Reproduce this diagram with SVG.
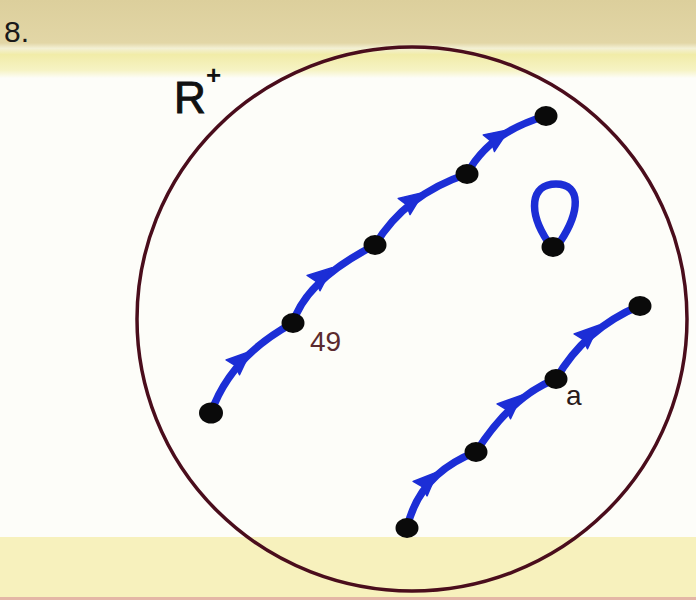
<svg xmlns="http://www.w3.org/2000/svg" width="696" height="600" viewBox="0 0 696 600">
  <defs>
    <linearGradient id="topband" x1="0" y1="0" x2="0" y2="1">
      <stop offset="0" stop-color="#dccf9c"/>
      <stop offset="0.55" stop-color="#e2d6a6"/>
      <stop offset="0.62" stop-color="#f3f0d4"/>
      <stop offset="0.7" stop-color="#f1eca8"/>
      <stop offset="0.9" stop-color="#f6f3c4"/>
      <stop offset="1" stop-color="#fdfdf8"/>
    </linearGradient>
    <path id="ah" d="M13,0 L-11,-10 L-8,0 L-11,10 Z"/>
    <style>
      .edge { fill: none; stroke: #1c2ed6; stroke-width: 7.5; stroke-linecap: round; }
      .arrow { fill: #1c2ed6; stroke: #1c2ed6; stroke-width: 1.5; stroke-linejoin: round; }
      .dot { fill: #0a0a0a; }
      .region { fill: none; stroke: #4a0d1c; stroke-width: 3.5; }
      .lbl { font-family: "Liberation Sans", Arial, sans-serif; }
    </style>
  </defs>

  <!-- paper -->
  <rect x="0" y="0" width="696" height="600" fill="#fdfdf9"/>
  <rect x="0" y="0" width="696" height="78" fill="url(#topband)"/>
  <rect x="0" y="537" width="696" height="63" fill="#f7f1bd"/>
  <rect x="0" y="597" width="696" height="3" fill="#e4b6a6"/>

  <!-- region boundary -->
  <g id="region">
    <ellipse class="region" cx="412" cy="319" rx="275" ry="272"/>
  </g>

  <!-- labels -->
  <text class="lbl" x="4" y="42" font-size="30" fill="#1a1a1a">8.</text>
  <text class="lbl" x="174" y="113" font-size="44" fill="#111" stroke="#111" stroke-width="1">R</text>
  <text class="lbl" x="206" y="84" font-size="26" font-weight="bold" fill="#111">+</text>
  <text class="lbl" x="310" y="351" font-size="28" fill="#5b2a2e">49</text>
  <text class="lbl" x="566" y="405" font-size="28" fill="#2a1a1a">a</text>

  <!-- connectors -->
  <g id="connectors">
    <path class="edge" d="M211,413 Q230.5,356.7 293,323"/>
    <path class="edge" d="M293,323 Q305.9,280.5 375,245"/>
    <path class="edge" d="M375,245 Q405.3,194.6 467,174"/>
    <path class="edge" d="M467,174 Q489,132.3 546,116"/>
    <path class="edge" d="M407,528 Q419.5,473.4 476,452"/>
    <path class="edge" d="M476,452 Q511.8,395.8 556,379"/>
    <path class="edge" d="M556,379 Q585,328.8 639,306"/>
    <path class="edge" d="M548,242 C528,212 530,184 556,184 C582,184 580,212 560,242"/>
    <use href="#ah" class="arrow" transform="translate(241,360) rotate(-42)"/>
    <use href="#ah" class="arrow" transform="translate(322,276) rotate(-40)"/>
    <use href="#ah" class="arrow" transform="translate(413,200) rotate(-36)"/>
    <use href="#ah" class="arrow" transform="translate(498,137) rotate(-34)"/>
    <use href="#ah" class="arrow" transform="translate(428,481) rotate(-44)"/>
    <use href="#ah" class="arrow" transform="translate(512,404) rotate(-42)"/>
    <use href="#ah" class="arrow" transform="translate(589,334) rotate(-42)"/>
  </g>

  <!-- nodes -->
  <g id="n1"><ellipse class="dot" cx="211" cy="413" rx="12" ry="10.5"/></g>
  <g id="n2"><ellipse class="dot" cx="293" cy="323" rx="11.5" ry="10"/></g>
  <g id="n3"><ellipse class="dot" cx="375" cy="245" rx="11.5" ry="10"/></g>
  <g id="n4"><ellipse class="dot" cx="467" cy="174" rx="11.5" ry="10"/></g>
  <g id="n5"><ellipse class="dot" cx="546" cy="116" rx="11.5" ry="10"/></g>
  <g id="n6"><ellipse class="dot" cx="553" cy="247" rx="11.5" ry="10"/></g>
  <g id="n7"><ellipse class="dot" cx="407" cy="528" rx="11.5" ry="10"/></g>
  <g id="n8"><ellipse class="dot" cx="476" cy="452" rx="11.5" ry="10"/></g>
  <g id="n9"><ellipse class="dot" cx="556" cy="379" rx="11.5" ry="10"/></g>
  <g id="n10"><ellipse class="dot" cx="640" cy="306" rx="11.5" ry="10"/></g>
</svg>
